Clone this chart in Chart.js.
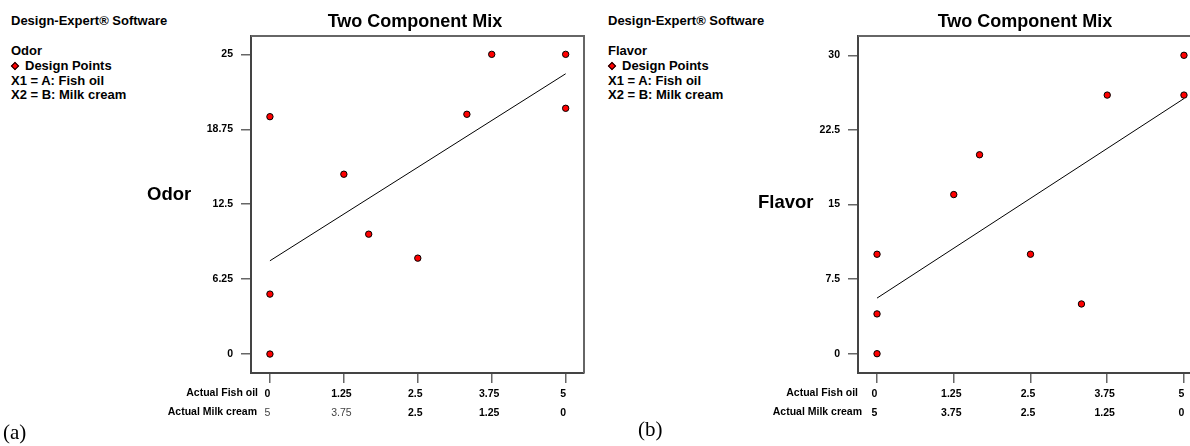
<!DOCTYPE html>
<html>
<head>
<meta charset="utf-8">
<title>Two Component Mix</title>
<script src="https://cdn.jsdelivr.net/npm/chart.js@4.4.1/dist/chart.umd.min.js"></script>
<style>
  html, body { margin: 0; padding: 0; background: #fff; }
  body { position: relative; width: 1190px; height: 446px; overflow: hidden;
         font-family: "Liberation Sans", Arial, sans-serif; }
  .panel { position: absolute; top: 0; }
  .info { position: absolute; font-weight: bold; font-size: 13px; line-height: 15px;
          color: #000; white-space: nowrap; }
  .info .red { color: #ff0000; }
  .diamond { position: absolute; width: 4px; height: 4px; background: #ff0000;
             border: 1px solid #000; transform: rotate(45deg); }
  .tag { position: absolute; font-family: "Liberation Serif", "Times New Roman", serif;
         font-size: 21px; line-height: 24px; color: #000; }
</style>
</head>
<body>

<!-- legend / info blocks -->
<div class="info" style="left:11px; top:13px;">Design-Expert® Software</div>
<div class="info" style="left:11px; top:43px;">Odor</div>
<div class="diamond" style="left:12px; top:63px;"></div>
<div class="info red" style="left:25px; top:58px;">Design Points</div>
<div class="info" style="left:11px; top:73px;">X1 = A: Fish oil</div>
<div class="info" style="left:11px; top:87px;">X2 = B: Milk cream</div>

<div class="info" style="left:608px; top:13px;">Design-Expert® Software</div>
<div class="info" style="left:608px; top:43px;">Flavor</div>
<div class="diamond" style="left:609px; top:63px;"></div>
<div class="info red" style="left:622px; top:58px;">Design Points</div>
<div class="info" style="left:608px; top:73px;">X1 = A: Fish oil</div>
<div class="info" style="left:608px; top:87px;">X2 = B: Milk cream</div>

<div class="panel" style="left:0px;"><canvas id="odorChart" width="600" height="446"></canvas></div>
<div class="panel" style="left:600px;"><canvas id="flavorChart" width="615" height="446"></canvas></div>

<div class="tag" style="left:3px; top:420px;">(a)</div>
<div class="tag" style="left:638px; top:417px;">(b)</div>

<script>
// Mixture components (total = 5)
const mixTotal = 5;
const fishOilTicks = [0, 1.25, 2.5, 3.75, 5];
const fishOilLabels = ['0', '1.25', '2.5', '3.75', '5'];
const milkCreamTicks = [5, 3.75, 2.5, 1.25, 0];
const milkCreamLabels = ['5', '3.75', '2.5', '1.25', '0'];

// Odor response
const odorTicks = [0, 6.25, 12.5, 18.75, 25];
const odorLabels = ['0', '6.25', '12.5', '18.75', '25'];
const odorFishOil = [0, 0, 0, 1.25, 1.67, 2.5, 3.33, 3.75, 5, 5];
const odorValues = [0, 5, 19.8, 15, 10, 8, 20, 25, 25, 20.5];
const odorFitFishOil = [0, 5];
const odorFitValues = [7.78, 23.38];

// Flavor response
const flavorTicks = [0, 7.5, 15, 22.5, 30];
const flavorLabels = ['0', '7.5', '15', '22.5', '30'];
const flavorFishOil = [0, 0, 0, 1.25, 1.67, 2.5, 3.33, 3.75, 5, 5];
const flavorValues = [0, 4, 10, 16, 20, 10, 5, 26, 26, 30];
const flavorFitFishOil = [0, 5];
const flavorFitValues = [5.59, 25.65];

const FONT = '"Liberation Sans", Arial, sans-serif';

// Draws the plot frame (top/right edges), the title, the response name
// and the row captions for the two component axes.
const framePlugin = {
  id: 'frame',
  afterDraw(chart, args, opts) {
    const { ctx, chartArea: a } = chart;
    ctx.save();
    ctx.strokeStyle = '#666';
    ctx.lineWidth = 2;
    ctx.beginPath();
    ctx.moveTo(a.left, a.top);
    ctx.lineTo(a.right, a.top);
    ctx.lineTo(a.right, a.bottom);
    ctx.stroke();

    ctx.fillStyle = '#000';
    ctx.font = 'bold 18px ' + FONT;
    ctx.textAlign = 'center';
    ctx.textBaseline = 'alphabetic';
    ctx.fillText(opts.title, (a.left + a.right) / 2 + opts.titleShift, 26.5);

    ctx.textAlign = 'left';
    ctx.font = 'bold 18.5px ' + FONT;
    ctx.fillText(opts.response, opts.responseX, opts.responseY);

    ctx.textAlign = 'right';
    ctx.textBaseline = 'middle';
    ctx.font = 'bold 10.5px ' + FONT;
    ctx.fillText('Actual Fish oil', opts.row1Right, 393);
    ctx.fillText('Actual Milk cream', opts.row2Right, 412);
    ctx.restore();
  }
};

function makeChart(canvasId, cfg) {
  const yTicks = cfg.yTicks, yLabels = cfg.yLabels;
  const areaTop = 36, areaBottom = 373;
  const x1Height = 30, x2Height = 20;
  const W = cfg.width, H = 446;

  const points = cfg.fishOil.map((f, i) => ({ x: f, y: cfg.values[i] }));
  const fit = cfg.fitFishOil.map((f, i) => ({ x: f, y: cfg.fitValues[i] }));

  return new Chart(document.getElementById(canvasId), {
    type: 'scatter',
    data: {
      datasets: [
        {
          label: 'Design Points',
          data: points,
          xAxisID: 'x', yAxisID: 'y',
          pointRadius: 3.2,
          pointBorderWidth: 1,
          pointBorderColor: '#000',
          pointBackgroundColor: '#ff0000',
          showLine: false,
          order: 1
        },
        {
          label: 'Fit',
          data: fit,
          xAxisID: 'x', yAxisID: 'y',
          showLine: true,
          borderColor: '#000',
          borderWidth: 1,
          pointRadius: 0,
          fill: false,
          order: 2
        }
      ]
    },
    options: {
      responsive: false,
      animation: false,
      events: [],
      layout: {
        padding: {
          left: 0, top: areaTop, right: W - cfg.areaRight,
          bottom: H - areaBottom - x1Height - x2Height
        }
      },
      plugins: {
        legend: { display: false },
        tooltip: { enabled: false },
        title: { display: false },
        frame: {
          title: 'Two Component Mix',
          titleShift: cfg.titleShift,
          response: cfg.response,
          responseX: cfg.responseX,
          responseY: cfg.responseY,
          row1Right: cfg.row1Right,
          row2Right: cfg.row2Right
        }
      },
      scales: {
        x: {
          type: 'linear',
          position: 'bottom',
          weight: 0,
          min: cfg.xMin, max: cfg.xMax,
          afterBuildTicks: s => { s.ticks = fishOilTicks.map(v => ({ value: v })); },
          afterFit: s => { s.height = x1Height; },
          grid: { display: true, drawOnChartArea: false, drawTicks: true,
                  tickLength: 10, color: '#666', lineWidth: 1.5 },
          border: { display: true, color: '#444', width: 2 },
          ticks: {
            callback: (v, i) => fishOilLabels[i],
            font: { family: FONT, size: 10.5, weight: 'bold' },
            color: '#000',
            padding: 4.5,
            labelOffset: -2.5,
            maxRotation: 0, autoSkip: false
          }
        },
        x2: {
          type: 'linear',
          position: 'bottom',
          weight: 1,
          reverse: true,
          min: mixTotal - cfg.xMax, max: mixTotal - cfg.xMin,
          afterBuildTicks: s => { s.ticks = milkCreamTicks.map(v => ({ value: v })); },
          afterFit: s => { s.height = x2Height; },
          grid: { display: false, drawTicks: false },
          border: { display: false },
          ticks: {
            callback: (v, i) => milkCreamLabels[i],
            font: ctx => ({ family: FONT, size: 10.5,
                            weight: cfg.milkBold[ctx.index] ? 'bold' : 'normal' }),
            color: ctx => cfg.milkBold[ctx.index] ? '#000' : '#444',
            padding: 3.5,
            labelOffset: -2.5,
            maxRotation: 0, autoSkip: false
          }
        },
        y: {
          type: 'linear',
          position: 'left',
          min: cfg.yMin, max: cfg.yMax,
          afterBuildTicks: s => { s.ticks = yTicks.map(v => ({ value: v })); },
          afterFit: s => { s.width = cfg.areaLeft; },
          grid: { display: true, drawOnChartArea: false, drawTicks: true,
                  tickLength: 10, color: '#666', lineWidth: 1.5 },
          border: { display: true, color: '#444', width: 2 },
          ticks: {
            callback: (v, i) => yLabels[i],
            font: { family: FONT, size: 10.5, weight: 'bold' },
            color: '#000',
            padding: 8,
            autoSkip: false
          }
        }
      }
    },
    plugins: [framePlugin]
  });
}

makeChart('odorChart', {
  width: 600,
  areaLeft: 251, areaRight: 584,
  xMin: -0.32, xMax: 5.31,
  yMin: -1.58, yMax: 26.53,
  yTicks: odorTicks, yLabels: odorLabels,
  fishOil: odorFishOil, values: odorValues,
  fitFishOil: odorFitFishOil, fitValues: odorFitValues,
  milkBold: [false, false, true, true, true],
  response: 'Odor', responseX: 147, responseY: 200,
  titleShift: -2.5,
  row1Right: 258, row2Right: 257
});

makeChart('flavorChart', {
  width: 615,
  areaLeft: 258, areaRight: 603,
  xMin: -0.31, xMax: 5.31,
  yMin: -1.94, yMax: 31.94,
  yTicks: flavorTicks, yLabels: flavorLabels,
  fishOil: flavorFishOil, values: flavorValues,
  fitFishOil: flavorFitFishOil, fitValues: flavorFitValues,
  milkBold: [true, true, true, true, true],
  response: 'Flavor', responseX: 158, responseY: 208,
  titleShift: -5.5,
  row1Right: 258, row2Right: 262
});
</script>
</body>
</html>
